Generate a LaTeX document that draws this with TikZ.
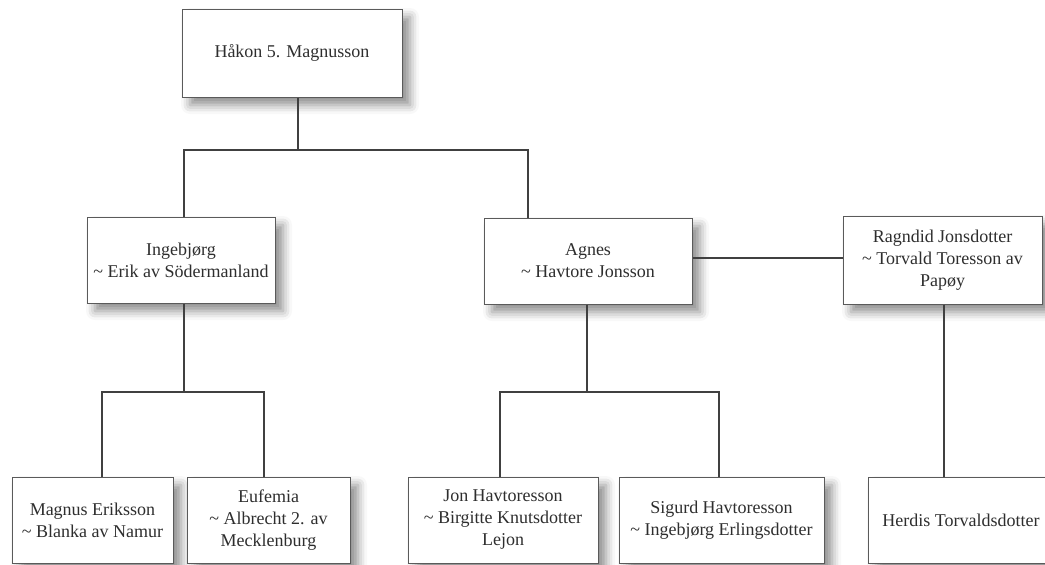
\documentclass[tikz,border=0pt]{standalone}
\usepackage{fontspec}
\setmainfont{Liberation Serif}
\usepackage{tikz}
\usetikzlibrary{positioning,shadows,shadows.blur}

\definecolor{boxline}{HTML}{5A5A5A}
\definecolor{linkline}{HTML}{404040}
\definecolor{nametext}{HTML}{2E2E2E}

\begin{document}
\begin{tikzpicture}[
        x=1pt, y=-1pt,
        line join = miter]

        \tikzstyle{person}=[
            draw = boxline,
            line width = 1pt,
            fill = white,
            rectangle,
            align = center,
            inner sep = 0pt,
            text = nametext,
            font = \fontsize{18}{22}\selectfont,
            minimum height = 86pt,
            blur shadow = {shadow xshift=8pt, shadow yshift=-8pt,
                shadow blur radius=9pt, shadow opacity=45}
        ]
        \tikzstyle{link}=[
            draw = linkline,
            line width = 1.5pt
        ]
        \useasboundingbox (0,0) rectangle (1045,565);

        \node[person, minimum width=220pt, minimum height=88pt] (hakon) at (292,53) {H\aa kon 5. Magnusson};

        \node[person, minimum width=188pt] (ingebjorg) at (181,260) {Ingebj\o rg\\\textasciitilde{} Erik av S\"odermanland};
        \node[person, minimum width=208pt] (agnes) at (588,261) {Agnes\\\textasciitilde{} Havtore Jonsson};
        \node[person, minimum width=199pt, minimum height=88pt] (ragndid) at (942.5,260) {Ragndid Jonsdotter\\\textasciitilde{} Torvald Toresson av\\Pap\o y};

        \node[person, minimum width=161pt] (magnus) at (92.5,520) {Magnus Eriksson\\\textasciitilde{} Blanka av Namur};
        \node[person, minimum width=163pt] (eufemia) at (268.5,520) {Eufemia\\\textasciitilde{} Albrecht 2. av\\Mecklenburg};
        \node[person, minimum width=190pt] (jon) at (503,520) {Jon Havtoresson\\\textasciitilde{} Birgitte Knutsdotter\\Lejon};
        \node[person, minimum width=205pt] (sigurd) at (721.5,520) {Sigurd Havtoresson\\\textasciitilde{} Ingebj\o rg Erlingsdotter};
        \node[person, minimum width=186pt] (herdis) at (961,520) {Herdis Torvaldsdotter};

        % forks of the family lines
        \coordinate (f1m) at (298,150);
        \coordinate (f1l) at (184,150);
        \coordinate (f1r) at (528,150);
        \coordinate (f2m) at (184,392);
        \coordinate (f2l) at (102,392);
        \coordinate (f2r) at (264,392);
        \coordinate (f3m) at (587,392);
        \coordinate (f3l) at (500,392);
        \coordinate (f3r) at (719,392);

        \path[link]
        (hakon.south -| f1m) -- (f1m)
        (ingebjorg.north -| f1l) -- (f1l) -- (f1r) -- (agnes.north -| f1r)
        (ingebjorg.south -| f2m) -- (f2m)
        (magnus.north -| f2l) -- (f2l) -- (f2r) -- (eufemia.north -| f2r)
        (agnes.south -| f3m) -- (f3m)
        (jon.north -| f3l) -- (f3l) -- (f3r) -- (sigurd.north -| f3r)
        (agnes.east |- 0,258) -- (ragndid.west |- 0,258)
        (ragndid.south -| 944,0) -- (herdis.north -| 944,0)
        ;
    \end{tikzpicture}
\end{document}
